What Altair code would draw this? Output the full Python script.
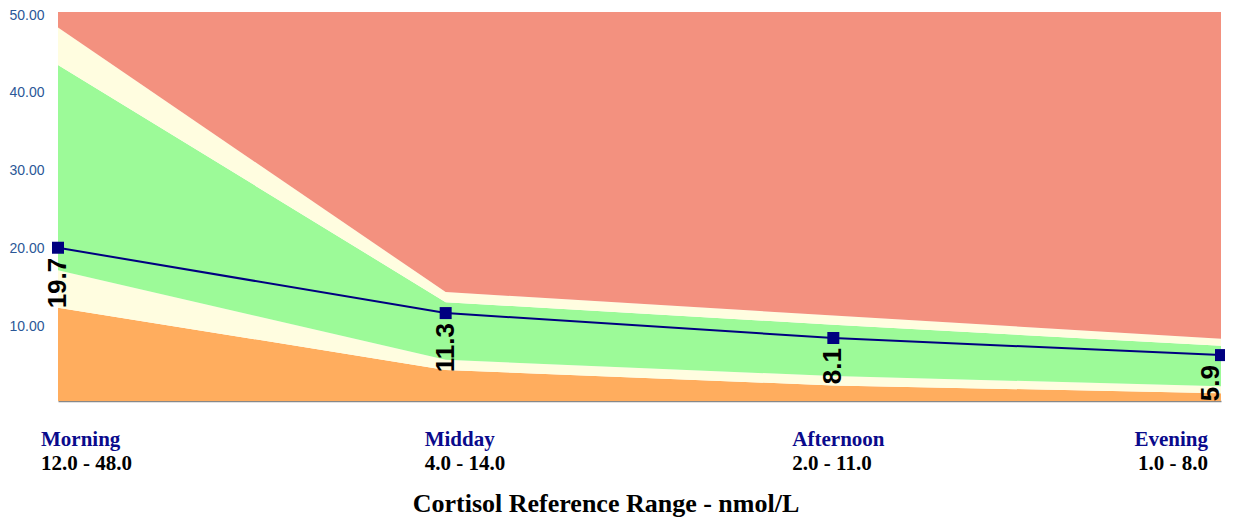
import altair as alt
import pandas as pd

# ---- data ----
periods = ["Morning", "Midday", "Afternoon", "Evening"]
ref_low = [12.0, 4.0, 2.0, 1.0]
ref_high = [48.0, 14.0, 11.0, 8.0]
green_low = [16.8, 5.3, 3.2, 1.9]
green_high = [43.2, 12.7, 9.8, 7.1]
axis_max = [50.0, 50.0, 50.0, 50.0]
results = [19.7, 11.3, 8.1, 5.9]
y_ticks = [10, 20, 30, 40, 50]

band_names = ["low", "borderline_low", "optimal", "borderline_high", "high"]
band_colors = ["#FFAD5E", "#FFFDE0", "#9CFA98", "#FFFDE0", "#F3917F"]

rows = []
for i, p in enumerate(periods):
    edges = [0.0, ref_low[i], green_low[i], green_high[i], ref_high[i], axis_max[i]]
    for b in range(5):
        rows.append({"period": p, "band": band_names[b], "lo": edges[b], "hi": edges[b + 1]})
bands_df = pd.DataFrame(rows)

res_df = pd.DataFrame({"period": periods, "value": results})
lab_df = pd.DataFrame({
    "period": periods,
    "range": [f"{a:.1f} - {b:.1f}" for a, b in zip(ref_low, ref_high)],
})

x_scale = alt.Scale(type="point", padding=0, domain=periods)
y_scale = alt.Scale(domain=[0, 50], nice=False, zero=True)

x_axis = alt.Axis(labels=False, ticks=False, title=None, grid=False,
                  domainColor="#888888", domainWidth=1.5)
y_axis = alt.Axis(values=y_ticks, format=".2f", title=None, grid=False,
                  ticks=False, domain=False, labelPadding=14, labelOffset=3,
                  labelFont="Liberation Sans", labelFontSize=14,
                  labelColor="#2B5797")

x_enc = alt.X("period:N", scale=x_scale, sort=periods, axis=x_axis)

areas = alt.Chart(bands_df).mark_area(opacity=1, interpolate="linear").encode(
    x=x_enc,
    y=alt.Y("lo:Q", scale=y_scale, axis=y_axis),
    y2="hi:Q",
    color=alt.Color("band:N", scale=alt.Scale(domain=band_names, range=band_colors), legend=None),
    detail="band:N",
)

y_res = alt.Y("value:Q", scale=y_scale, axis=y_axis)

line = alt.Chart(res_df).mark_line(color="#000080", strokeWidth=2).encode(x=x_enc, y=y_res)
pts = alt.Chart(res_df).mark_square(size=144, color="#000080", opacity=1).encode(x=x_enc, y=y_res)

val_style = dict(angle=270, align="right", baseline="middle", dx=-10,
                 font="Liberation Sans", fontSize=26, fontWeight="bold", color="black")
vals_main = alt.Chart(res_df).transform_filter(alt.datum.period != "Evening").mark_text(
    **val_style).encode(x=x_enc, y=y_res, text=alt.Text("value:Q", format=".1f"))
vals_last = alt.Chart(res_df).transform_filter(alt.datum.period == "Evening").mark_text(
    dy=-10, **val_style).encode(x=x_enc, y=y_res, text=alt.Text("value:Q", format=".1f"))

label_style = {
    "Morning": ("left", -17),
    "Midday": ("left", -21),
    "Afternoon": ("left", -41),
    "Evening": ("right", -13),
}

label_layers = []
for p in periods:
    al, dx = label_style[p]
    base = alt.Chart(lab_df).transform_filter(alt.datum.period == p)
    label_layers.append(base.mark_text(
        align=al, baseline="alphabetic", dx=dx, font="Liberation Serif",
        fontSize=21, fontWeight="bold", color="#0A0A8C"
    ).encode(x=x_enc, y=alt.value(434), text="period:N"))
    label_layers.append(base.mark_text(
        align=al, baseline="alphabetic", dx=dx, font="Liberation Serif",
        fontSize=21, fontWeight="bold", color="black"
    ).encode(x=x_enc, y=alt.value(458), text="range:N"))

title_layer = alt.Chart(pd.DataFrame({"t": ["Cortisol Reference Range - nmol/L"]})).mark_text(
    align="center", baseline="alphabetic", font="Liberation Serif",
    fontSize=26, fontWeight="bold", color="black"
).encode(x=alt.value(548), y=alt.value(500), text="t:N")

chart = alt.layer(areas, line, pts, vals_main, vals_last, *label_layers, title_layer).properties(
    width=1163, height=389,
    autosize=alt.AutoSizeParams(type="none"),
    padding={"left": 50, "top": 4, "right": 4, "bottom": 118},
).configure_view(strokeWidth=0)

chart.save("out.html", embed_options={"renderer": "svg", "actions": False})
